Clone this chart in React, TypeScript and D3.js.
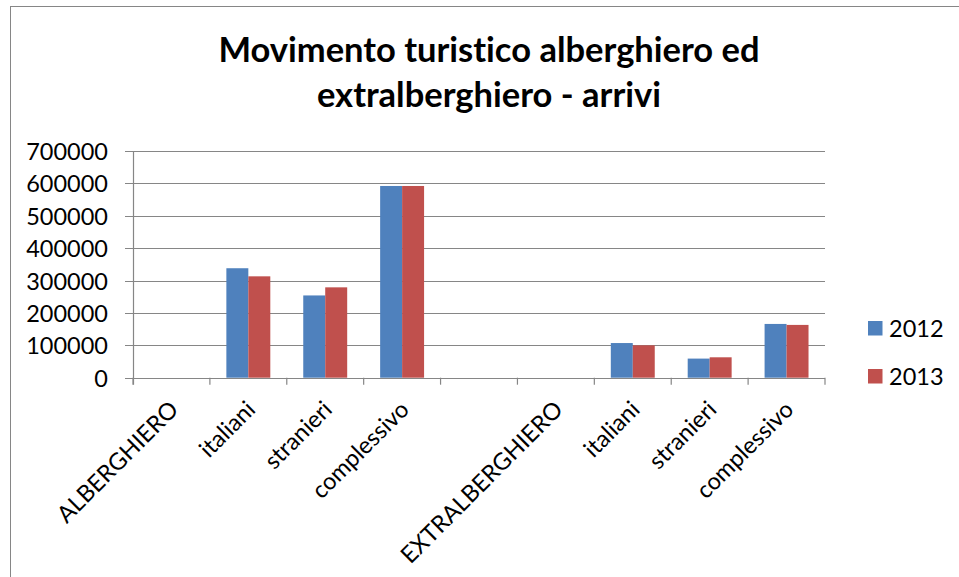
import React from "react";
import * as d3 from "d3";

const categories = ["ALBERGHIERO", "italiani", "stranieri", "complessivo", "", "EXTRALBERGHIERO", "italiani", "stranieri", "complessivo"];
const series2012 = [0, 338000, 254000, 592000, 0, 0, 107000, 59000, 166000];
const series2013 = [0, 313000, 279000, 592000, 0, 0, 100000, 63000, 163000];
const seriesNames = ["2012", "2013"];
const yTicks = [0, 100000, 200000, 300000, 400000, 500000, 600000, 700000];
const titleLines = ["Movimento turistico alberghiero ed", "extralberghiero - arrivi"];

const colors = ["#4F81BD", "#C0504D"];
const FONT = "Lato, 'Open Sans', 'Liberation Sans', sans-serif";

export default function App() {
  const W = 959, H = 577;
  const left = 133, right = 825, top = 151, bottom = 377.7;
  const idx = categories.map((_, i) => String(i));
  const x = d3.scaleBand().domain(idx).range([left, right]).paddingInner(0).paddingOuter(0);
  const step = x.step();
  const bw = step / 3.5;
  const y = d3.scaleLinear().domain([0, 700000]).range([bottom, top]);
  const all = [series2012, series2013];
  const grid = "#868686";

  return (
    <svg width={W} height={H} style={{ position: "absolute", left: 0, top: 0, background: "#fff", fontVariantLigatures: "none" }} fontFamily={FONT}>
      <rect x={0} y={0} width={W} height={H} fill="#fff" />
      <rect x={10.5} y={6.5} width={960} height={590} fill="none" stroke={grid} strokeWidth={1} />
      {titleLines.map((t, i) => (
        <text key={i} x={489} y={62 + i * 45} textAnchor="middle" fontWeight="bold" fontSize={34.5} fill="#000">{t}</text>
      ))}
      {yTicks.map((v) => (
        <g key={v}>
          <line x1={left - 8} x2={right} y1={Math.round(y(v)) + 0.5} y2={Math.round(y(v)) + 0.5} stroke={grid} strokeWidth={1.2} />
          <text x={108} y={y(v)} textAnchor="end" dominantBaseline="central" fontSize={23.5} fill="#000">{d3.format("d")(v)}</text>
        </g>
      ))}
      <line x1={left + 0.5} x2={left + 0.5} y1={top} y2={bottom + 7} stroke={grid} strokeWidth={1.2} />
      {d3.range(categories.length + 1).map((i) => {
        const xx = left + i * step;
        return <line key={i} x1={xx} x2={xx} y1={bottom} y2={bottom + 7} stroke={grid} strokeWidth={1.2} />;
      })}
      {all.map((s, si) =>
        s.map((v, i) => {
          const cx = (x(String(i)) as number) + step / 2;
          const bx = cx - bw + si * bw;
          return v > 0 ? (
            <rect key={si + "-" + i} x={bx} y={y(v)} width={bw} height={y(0) - y(v)} fill={colors[si]} />
          ) : null;
        })
      )}
      {categories.map((c, i) => {
        const cx = (x(String(i)) as number) + step / 2;
        return (
          <text key={i} transform={`translate(${cx + 2},${bottom + 27}) rotate(-45)`} textAnchor="end" dominantBaseline="central" fontSize={23.5} fill="#000">{c}</text>
        );
      })}
      {seriesNames.map((n, i) => (
        <g key={n}>
          <rect x={868} y={321 + i * 48} width={14.5} height={14.5} fill={colors[i]} />
          <text x={889} y={328 + i * 48} dominantBaseline="central" fontSize={23.5} fill="#000">{n}</text>
        </g>
      ))}
    </svg>
  );
}
